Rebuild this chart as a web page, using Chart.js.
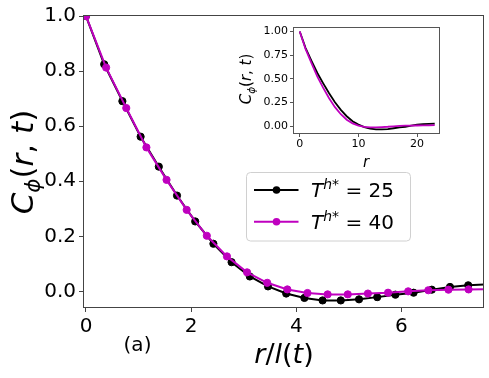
<!DOCTYPE html>
<html><head><meta charset="utf-8">
<script src="https://cdn.jsdelivr.net/npm/chart.js@4"></script>
<style>
html,body{margin:0;padding:0;background:#fff;}
#wrap{position:relative;width:489px;height:378px;overflow:hidden;}
#main{position:absolute;left:0;top:0;}
#inset{position:absolute;left:230px;top:18px;}
</style></head><body>
<div id="wrap">
<canvas id="main" width="489" height="378"></canvas>
<canvas id="inset" width="220" height="155"></canvas>
</div>
<script>
// ---- data ----
const seriesNames = ['25', '40'];
const seriesColors = ['#000000', '#bf00bf'];
// scaled distance r/l(t) for each series
const rScaled25 = [0, 0.346, 0.692, 1.039, 1.385, 1.731, 2.077, 2.423, 2.769, 3.116, 3.462, 3.808, 4.154, 4.500, 4.846, 5.193, 5.539, 5.885, 6.231, 6.577, 6.923, 7.270, 7.616, 7.962];
const rScaled40 = [0, 0.383, 0.766, 1.149, 1.532, 1.915, 2.298, 2.681, 3.064, 3.447, 3.830, 4.213, 4.596, 4.979, 5.362, 5.745, 6.128, 6.511, 6.894, 7.277, 7.660, 8.043, 8.426, 8.809];
// correlation C_phi
const corr25 = [1.0, 0.825, 0.691, 0.562, 0.453, 0.348, 0.254, 0.173, 0.106, 0.054, 0.018, -0.008, -0.024, -0.033, -0.033, -0.029, -0.021, -0.012, -0.005, 0.006, 0.016, 0.022, 0.025, 0.027];
const corr40 = [1.0, 0.813, 0.666, 0.523, 0.405, 0.296, 0.202, 0.127, 0.069, 0.031, 0.007, -0.006, -0.011, -0.011, -0.008, -0.005, 0.000, 0.004, 0.006, 0.007, 0.008, 0.009, 0.010, 0.012];
// unscaled distance r (inset)
const rInset = [0, 1, 2, 3, 4, 5, 6, 7, 8, 9, 10, 11, 12, 13, 14, 15, 16, 17, 18, 19, 20, 21, 22, 23];
// tick labels
const mainXTicks = [0, 2, 4, 6];
const mainYTicks = [0.0, 0.2, 0.4, 0.6, 0.8, 1.0];
const insetXTicks = [0, 10, 20];
const insetYTicks = [0.0, 0.25, 0.5, 0.75, 1.0];

const FAM = "'DejaVu Sans'";
const MAIN_XMAX = 7.57;
const pts = (xs, ys) => ys.map((y, i) => ({x: xs[i], y: y}));

function drawRich(ctx, parts, x, y, align) {
  let w = 0;
  parts.forEach(p => { ctx.font = p.font; p.w = ctx.measureText(p.t).width; w += p.w; });
  let cx = align === 'center' ? x - w / 2 : x;
  ctx.textAlign = 'left';
  ctx.textBaseline = 'alphabetic';
  parts.forEach(p => { ctx.font = p.font; ctx.fillText(p.t, cx, y + (p.dy || 0)); cx += p.w; });
}
const it = s => `italic ${s}px ${FAM}`;
const up = s => `${s}px ${FAM}`;

const framePlugin = {
  id: 'frame',
  afterDatasetsDraw(chart, args, opts) {
    const {ctx, chartArea: a} = chart;
    ctx.save();
    ctx.strokeStyle = opts.color || '#444';
    ctx.lineWidth = opts.width || 1;
    ctx.strokeRect(Math.round(a.left) + 0.5, Math.round(a.top) + 0.5, Math.round(a.right - a.left) - 1, Math.round(a.bottom - a.top) - 1);
    ctx.restore();
  }
};

const mainDecor = {
  id: 'mainDecor',
  afterDraw(chart) {
    const ctx = chart.ctx;
    ctx.save();
    ctx.fillStyle = '#000';
    // x title
    drawRich(ctx, [
      {t: 'r', font: it(27)}, {t: '/', font: up(27)}, {t: 'l', font: it(27)},
      {t: '(', font: up(27)}, {t: 't', font: it(27)}, {t: ')', font: up(27)}
    ], 284, 362.5, 'center');
    // y title
    ctx.save();
    ctx.translate(33, 162);
    ctx.rotate(-Math.PI / 2);
    drawRich(ctx, [
      {t: 'C', font: it(31)}, {t: 'ϕ', font: it(21.5), dy: 7},
      {t: '(', font: up(31)}, {t: 'r', font: it(31)}, {t: ', ', font: up(31)},
      {t: 't', font: it(31)}, {t: ')', font: up(31)}
    ], 0, 0, 'center');
    ctx.restore();
    // (a)
    ctx.font = up(20);
    ctx.textAlign = 'center';
    ctx.textBaseline = 'alphabetic';
    ctx.fillText('(a)', 137.5, 350.5);
    // legend
    const bx = 246.5, by = 172.5, bw = 164, bh = 68.5, r = 4;
    ctx.beginPath();
    ctx.moveTo(bx + r, by);
    ctx.arcTo(bx + bw, by, bx + bw, by + bh, r);
    ctx.arcTo(bx + bw, by + bh, bx, by + bh, r);
    ctx.arcTo(bx, by + bh, bx, by, r);
    ctx.arcTo(bx, by, bx + bw, by, r);
    ctx.closePath();
    ctx.fillStyle = 'rgba(255,255,255,0.8)';
    ctx.fill();
    ctx.strokeStyle = '#d0d0d0';
    ctx.lineWidth = 1;
    ctx.stroke();
    const rows = [190, 221.7];
    seriesNames.forEach((nm, i) => {
      const yy = rows[i];
      ctx.strokeStyle = seriesColors[i];
      ctx.lineWidth = 2;
      ctx.beginPath(); ctx.moveTo(254, yy); ctx.lineTo(298.5, yy); ctx.stroke();
      ctx.fillStyle = seriesColors[i];
      ctx.beginPath(); ctx.arc(276.5, yy, 3.8, 0, Math.PI * 2); ctx.fill();
      ctx.fillStyle = '#000';
      drawRich(ctx, [
        {t: 'T', font: it(20)}, {t: 'h', font: it(14), dy: -8}, {t: '*', font: up(14), dy: -8},
        {t: ' = ' + nm, font: up(20)}
      ], 311, yy + 7, 'left');
    });
    ctx.restore();
  }
};

const tickStyle = (size) => ({font: {family: 'DejaVu Sans', size: size}, color: '#000', maxRotation: 0, autoSkip: false});
const markerR = c => (c.raw && c.raw.x > MAIN_XMAX ? 0 : 3.6);

new Chart(document.getElementById('main'), {
  type: 'scatter',
  data: {
    datasets: [
      {label: seriesNames[0], data: pts(rScaled25, corr25), showLine: true, borderColor: seriesColors[0], backgroundColor: seriesColors[0],
       borderWidth: 2, pointRadius: markerR, pointBorderWidth: 1, pointBorderColor: seriesColors[0], pointBackgroundColor: seriesColors[0], order: 2},
      {label: seriesNames[1], data: pts(rScaled40, corr40), showLine: true, borderColor: seriesColors[1], backgroundColor: seriesColors[1],
       borderWidth: 2, pointRadius: markerR, pointBorderWidth: 1, pointBorderColor: seriesColors[1], pointBackgroundColor: seriesColors[1], order: 1}
    ]
  },
  options: {
    responsive: false, animation: false, devicePixelRatio: 1,
    layout: {padding: {top: 14, right: 4, left: 0, bottom: 0}},
    plugins: {legend: {display: false}, tooltip: {enabled: false}, frame: {color: '#444', width: 1}},
    scales: {
      x: {type: 'linear', min: -0.057, max: MAIN_XMAX,
          afterBuildTicks: s => { s.ticks = mainXTicks.map(v => ({value: v})); },
          afterFit: s => { s.height = 70; },
          ticks: Object.assign(tickStyle(20), {padding: 3, callback: v => String(v)}),
          grid: {display: true, drawOnChartArea: false, drawTicks: true, tickLength: 4, color: '#444'},
          border: {display: false}},
      y: {type: 'linear', min: -0.0605, max: 1.004,
          afterBuildTicks: s => { s.ticks = mainYTicks.map(v => ({value: v})); },
          afterFit: s => { s.width = 83; },
          ticks: Object.assign(tickStyle(20), {padding: 3, callback: v => v.toFixed(1)}),
          grid: {display: true, drawOnChartArea: false, drawTicks: true, tickLength: 4, color: '#444'},
          border: {display: false}}
    }
  },
  plugins: [framePlugin, mainDecor]
});

const insetDecor = {
  id: 'insetDecor',
  afterDraw(chart) {
    const ctx = chart.ctx;
    ctx.save();
    ctx.fillStyle = '#000';
    drawRich(ctx, [{t: 'r', font: it(15)}], 136, 148.5, 'center');
    ctx.translate(21, 61);
    ctx.rotate(-Math.PI / 2);
    drawRich(ctx, [
      {t: 'C', font: it(15)}, {t: 'ϕ', font: it(10.5), dy: 3.5},
      {t: '(', font: up(15)}, {t: 'r', font: it(15)}, {t: ', ', font: up(15)},
      {t: 't', font: it(15)}, {t: ')', font: up(15)}
    ], 0, 0, 'center');
    ctx.restore();
  }
};

new Chart(document.getElementById('inset'), {
  type: 'scatter',
  data: {
    datasets: [
      {label: seriesNames[0], data: pts(rInset, corr25), showLine: true, borderColor: seriesColors[0], borderWidth: 1.8, pointRadius: 0, order: 2},
      {label: seriesNames[1], data: pts(rInset, corr40), showLine: true, borderColor: seriesColors[1], borderWidth: 1.8, pointRadius: 0, order: 1}
    ]
  },
  options: {
    responsive: false, animation: false, devicePixelRatio: 1,
    layout: {padding: {top: 5, right: 10, left: 0, bottom: 0}},
    plugins: {legend: {display: false}, tooltip: {enabled: false}, frame: {color: '#555', width: 1}},
    scales: {
      x: {type: 'linear', min: -1.15, max: 23.9,
          afterBuildTicks: s => { s.ticks = insetXTicks.map(v => ({value: v})); },
          afterFit: s => { s.height = 39; },
          ticks: Object.assign(tickStyle(11), {padding: 1, callback: v => String(v)}),
          grid: {display: true, drawOnChartArea: false, drawTicks: true, tickLength: 3, color: '#555'},
          border: {display: false}},
      y: {type: 'linear', min: -0.0815, max: 1.0515,
          afterBuildTicks: s => { s.ticks = insetYTicks.map(v => ({value: v})); },
          afterFit: s => { s.width = 63; },
          ticks: Object.assign(tickStyle(11), {padding: 2, callback: v => v.toFixed(2)}),
          grid: {display: true, drawOnChartArea: false, drawTicks: true, tickLength: 3, color: '#555'},
          border: {display: false}}
    }
  },
  plugins: [framePlugin, insetDecor]
});
</script>
</body></html>
